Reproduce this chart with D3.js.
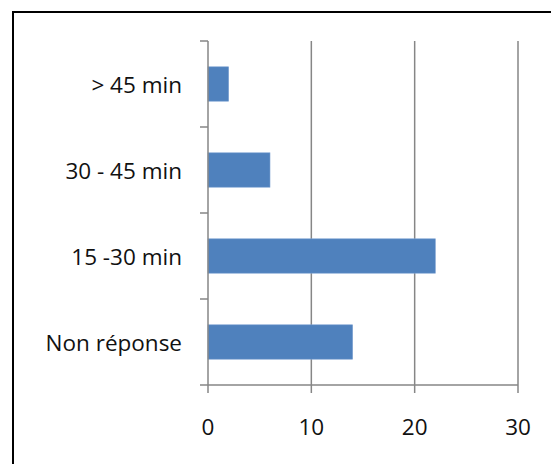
<html>
<script src='https://d3js.org/d3.v7.min.js'></script>
<head>
<style>
  body { margin: 0; background: white; }
  text { font-family: "Open Sans", sans-serif; }
</style>
</head>
<body>
<svg id="chart" width="551" height="464"></svg>
<script>

// data
var categories = ["> 45 min", "30 - 45 min", "15 -30 min", "Non réponse"];
var values = [2, 6, 22, 14];
var xTicks = [0, 10, 20, 30];

var svg = d3.select("#chart");

// outer frame (right and bottom edges fall outside the picture)
svg.append("rect")
    .attr("x", 13).attr("y", 12)
    .attr("width", 560).attr("height", 480)
    .attr("fill", "white")
    .attr("stroke", "black")
    .attr("stroke-width", 2);

// plot area ("top" is taken by window.top, so use other names)
var plotLeft = 208, plotRight = 518, plotTop = 41, plotBottom = 385;

var x = d3.scaleLinear().domain([0, 30]).range([plotLeft, plotRight]);
var y = d3.scaleBand().domain(categories).range([plotTop, plotBottom]).paddingInner(0.6).paddingOuter(0.3);
var band = d3.scaleBand().domain(categories).range([plotTop, plotBottom]);

var grey = "#868686";

// vertical gridlines
svg.append("g")
  .selectAll("line")
  .data(xTicks.slice(1))
  .enter()
  .append("line")
    .attr("x1", function(d) { return x(d); })
    .attr("x2", function(d) { return x(d); })
    .attr("y1", plotTop)
    .attr("y2", plotBottom)
    .attr("stroke", grey)
    .attr("stroke-width", 1.5);

// bars
svg.append("g")
  .selectAll("rect")
  .data(values)
  .enter()
  .append("rect")
    .attr("x", x(0))
    .attr("y", function(d, i) { return y(categories[i]); })
    .attr("width", function(d) { return x(d) - x(0); })
    .attr("height", y.bandwidth())
    .attr("fill", "#4f81bd")
    .attr("stroke", "#7fa3d3")
    .attr("stroke-width", 0.6);

// y axis line and ticks at band boundaries
svg.append("line")
    .attr("x1", plotLeft).attr("x2", plotLeft)
    .attr("y1", plotTop).attr("y2", plotBottom)
    .attr("stroke", grey).attr("stroke-width", 1.5);

var bounds = categories.map(function(c) { return band(c); }).concat([plotBottom]);
svg.append("g")
  .selectAll("line")
  .data(bounds)
  .enter()
  .append("line")
    .attr("x1", plotLeft - 8).attr("x2", plotLeft)
    .attr("y1", function(d) { return d; })
    .attr("y2", function(d) { return d; })
    .attr("stroke", grey).attr("stroke-width", 1.5);

// y labels
svg.append("g")
  .selectAll("text")
  .data(categories)
  .enter()
  .append("text")
    .attr("x", 182)
    .attr("y", function(d) { return band(d) + band.bandwidth() / 2; })
    .attr("text-anchor", "end")
    .attr("dominant-baseline", "central")
    .style("font-size", "22.5px")
    .attr("fill", "#111")
    .text(function(d) { return d; });

// x axis line and ticks
svg.append("line")
    .attr("x1", plotLeft).attr("x2", plotRight)
    .attr("y1", plotBottom).attr("y2", plotBottom)
    .attr("stroke", grey).attr("stroke-width", 1.5);

svg.append("g")
  .selectAll("line")
  .data(xTicks)
  .enter()
  .append("line")
    .attr("x1", function(d) { return x(d); })
    .attr("x2", function(d) { return x(d); })
    .attr("y1", plotBottom).attr("y2", plotBottom + 8)
    .attr("stroke", grey).attr("stroke-width", 1.5);

svg.append("g")
  .selectAll("text")
  .data(xTicks)
  .enter()
  .append("text")
    .attr("x", function(d) { return x(d); })
    .attr("y", 435)
    .attr("text-anchor", "middle")
    .style("font-size", "22.5px")
    .attr("fill", "#111")
    .text(function(d) { return d; });

</script>
</body>
</html>
